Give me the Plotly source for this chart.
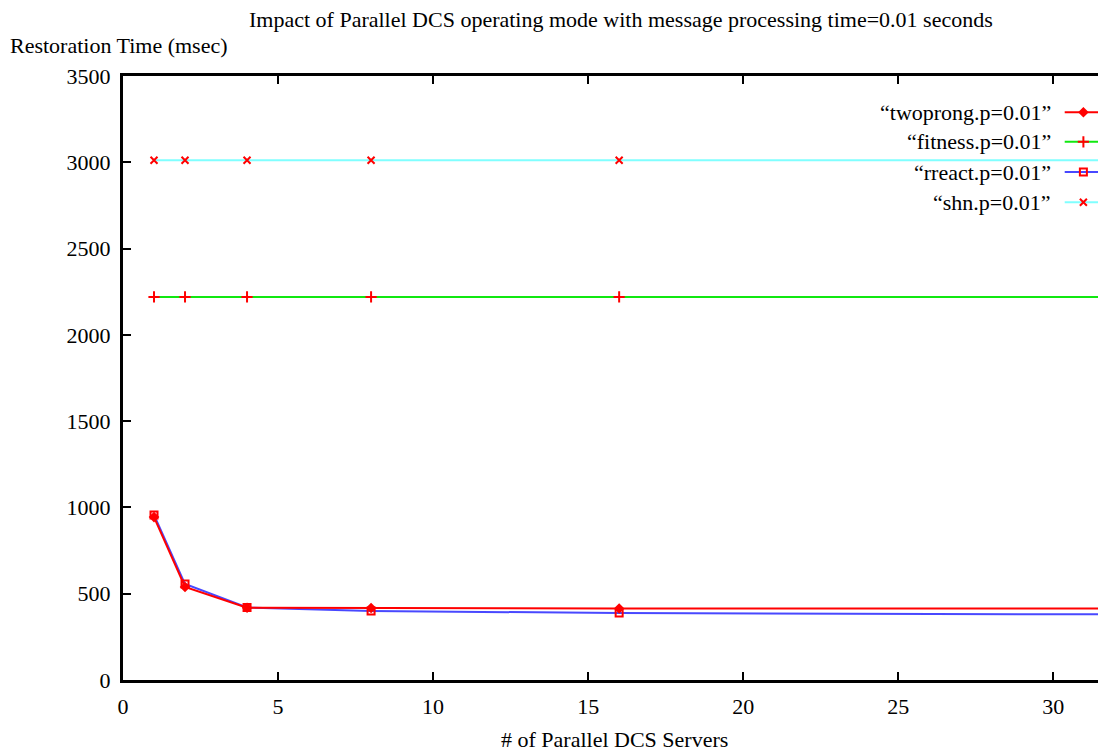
import plotly.graph_objects as go

# ---- data ----
servers = [1, 2, 4, 8, 16, 32]
twoprong = [944, 539, 419, 417, 414, 415]
fitness = [2220, 2220, 2220, 2220, 2220, 2220]
rreact = [956, 556, 420, 400, 388, 380]
shn = [3012, 3012, 3012, 3012, 3012, 3012]

series_names = ['\u201ctwoprong.p=0.01\u201d', '\u201cfitness.p=0.01\u201d',
                '\u201crreact.p=0.01\u201d', '\u201cshn.p=0.01\u201d']
y_ticks = [0, 500, 1000, 1500, 2000, 2500, 3000, 3500]
x_ticks = [0, 5, 10, 15, 20, 25, 30]
title_text = 'Impact of Parallel DCS operating mode with message processing time=0.01 seconds'

line_colors = ['#ff0000', '#10e810', '#4848ff', '#80ffff']
symbols = ['diamond', 'cross-thin', 'square-open', 'x-thin']
sizes = [6, 8, 7, 7]
values = [twoprong, fitness, rreact, shn]

FONT = 'Liberation Serif'
FS = 22
fig = go.Figure()

order = [3, 1, 2, 0]
for i in order:
    fig.add_trace(go.Scatter(
        x=servers, y=values[i], mode='lines+markers', name=series_names[i],
        line=dict(color=line_colors[i], width=2),
        marker=dict(symbol=symbols[i], size=sizes[i], color='#ff0000',
                    line=dict(color='#ff0000', width=2)),
        showlegend=False, cliponaxis=True))

# manual legend (symbols to the right of right-aligned text) on an overlay axis
leg_y = [0.940, 0.891, 0.841, 0.791]
for i in range(4):
    fig.add_trace(go.Scatter(
        x=[0.958, 0.995], y=[leg_y[i], leg_y[i]], mode='lines',
        line=dict(color=line_colors[i], width=2),
        xaxis='x2', yaxis='y2', showlegend=False, hoverinfo='skip'))
    fig.add_trace(go.Scatter(
        x=[0.977], y=[leg_y[i]], mode='markers',
        marker=dict(symbol=symbols[i], size=sizes[i], color='#ff0000',
                    line=dict(color='#ff0000', width=2)),
        xaxis='x2', yaxis='y2', showlegend=False, hoverinfo='skip'))
    fig.add_annotation(x=0.946, y=leg_y[i], xref='paper', yref='paper',
                       text=series_names[i], showarrow=False,
                       xanchor='right', yanchor='middle',
                       font=dict(family=FONT, size=FS, color='black'))

fig.add_annotation(x=(621 - 123) / 983, y=(680 - 19) / 604, xref='paper', yref='paper',
                   text=title_text, showarrow=False,
                   xanchor='center', yanchor='middle',
                   font=dict(family=FONT, size=FS, color='black'))
fig.add_annotation(x=-0.117, y=1.051, xref='paper', yref='paper',
                   text='Restoration Time (msec)', showarrow=False,
                   xanchor='left', yanchor='middle',
                   font=dict(family=FONT, size=FS, color='black'))
fig.add_annotation(x=0.5, y=-0.099, xref='paper', yref='paper',
                   text='# of Parallel DCS Servers', showarrow=False,
                   xanchor='center', yanchor='middle',
                   font=dict(family=FONT, size=FS, color='black'))

W, H = 1098, 746
fig.update_layout(
    width=W, height=H,
    margin=dict(l=115, r=0, t=68, b=74),
    paper_bgcolor='white', plot_bgcolor='white',
    font=dict(family=FONT, size=FS, color='black'),
    xaxis=dict(range=[0, 31.7], tickvals=x_ticks, ticks='inside', ticklen=8,
               tickwidth=2, tickcolor='black', showline=True, linewidth=3,
               linecolor='black', mirror='ticks', showgrid=False, zeroline=False,
               ticklabelstandoff=5),
    yaxis=dict(range=[0, 3500], tickvals=y_ticks, ticks='inside', ticklen=8,
               tickwidth=2, tickcolor='black', showline=True, linewidth=3,
               linecolor='black', showgrid=False, zeroline=False,
               ticklabelstandoff=5),
    xaxis2=dict(range=[0, 1], overlaying='x', anchor='y2', visible=False,
                showgrid=False, zeroline=False),
    yaxis2=dict(range=[0, 1], overlaying='y', anchor='x2', visible=False,
                showgrid=False, zeroline=False),
)

fig.write_html('out.html')
